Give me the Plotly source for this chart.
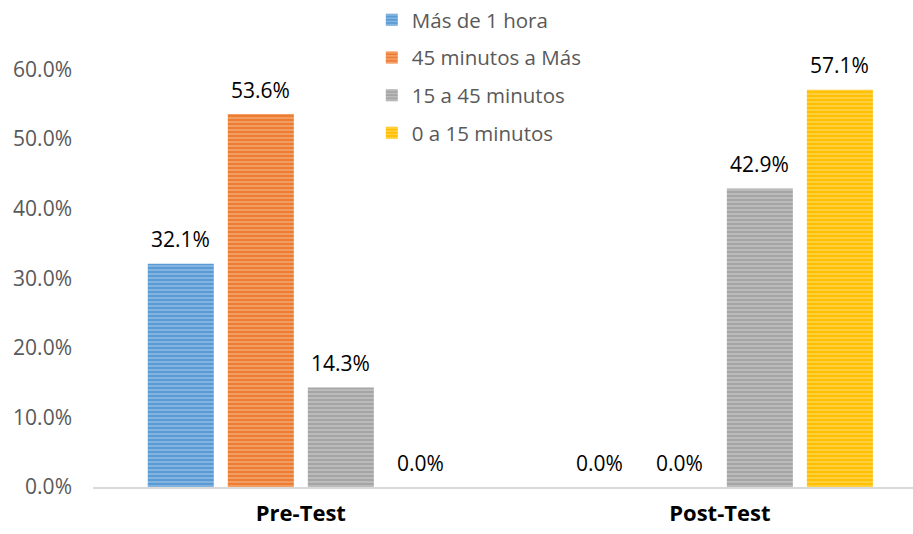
import plotly.graph_objects as go

categories = ["Pre-Test", "Post-Test"]
series_names = ["Más de 1 hora", "45 minutos a Más", "15 a 45 minutos", "0 a 15 minutos"]
mas_1_hora = [0.321, 0.0]
min45_a_mas = [0.536, 0.0]
min15_45 = [0.143, 0.429]
min0_15 = [0.0, 0.571]
y_ticks = [0, 0.1, 0.2, 0.3, 0.4, 0.5, 0.6]

values = [mas_1_hora, min45_a_mas, min15_45, min0_15]
colors = ["#5B9BD5", "#ED7D31", "#A5A5A5", "#FFC000"]
FONT = "Open Sans"
BARGAP = 0.236
n = len(values)
slot = (1 - BARGAP) / n

fig = go.Figure()
for i, (name, vals, col) in enumerate(zip(series_names, values, colors)):
    fig.add_trace(go.Bar(
        name=name, x=categories, y=vals,
        marker=dict(color=col, line=dict(width=0),
                    pattern=dict(shape="-", size=4, solidity=0.35,
                                 fgcolor="white", fgopacity=0.35)),
        legendgroup=name,
    ))
    for j, v in enumerate(vals):
        fig.add_annotation(
            x=j + (i - (n - 1) / 2) * slot, y=v, text=f"{v:.1%}",
            showarrow=False, yanchor="middle", yshift=24.5,
            font=dict(family=FONT, size=21, color="#000000"),
        )

fig.update_layout(
    width=913, height=534,
    margin=dict(l=93, r=0, t=0, b=47),
    paper_bgcolor="white", plot_bgcolor="white",
    barmode="group", bargap=BARGAP, bargroupgap=0.175,
    font=dict(family=FONT, color="#595959"),
    legend=dict(x=0.34, y=1.0, xanchor="left", yanchor="top",
                font=dict(family=FONT, size=20.5, color="#595959"),
                tracegroupgap=8, traceorder="grouped",
                bgcolor="rgba(0,0,0,0)"),
    xaxis=dict(range=[-0.496, 1.461], showline=True, linecolor="#D9D9D9",
               linewidth=2, ticks="", showgrid=False, ticklabelstandoff=6,
               automargin=False,
               tickfont=dict(family=FONT, size=22, color="#000000", weight="bold")),
    yaxis=dict(range=[0, 0.7], tickvals=y_ticks, tickformat=".1%",
               showgrid=False, zeroline=False, showline=False, ticks="",
               ticklabelstandoff=20, automargin=False,
               tickfont=dict(family=FONT, size=21, color="#595959")),
)
fig.write_html("out.html", config={"displayModeBar": False},
               post_script="document.body.style.margin='0px';")
